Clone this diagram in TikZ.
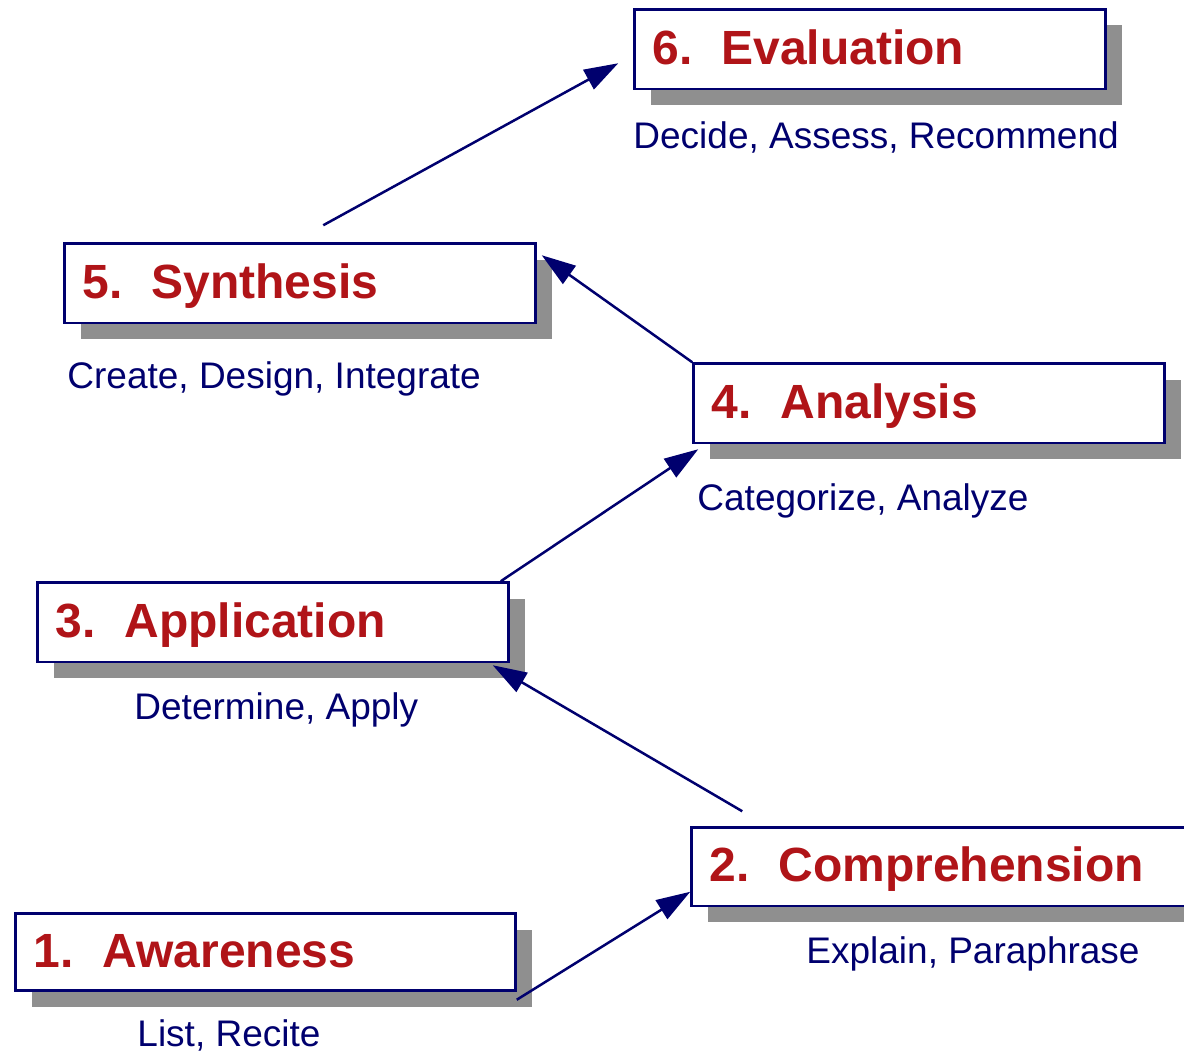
\documentclass[tikz,border=0pt]{standalone}
\usepackage{fontspec}
\setmainfont{Liberation Sans}
\usetikzlibrary{calc,positioning,arrows.meta,shadows}

\definecolor{navy}{RGB}{0,0,110}
\definecolor{titlered}{RGB}{176,20,24}
\definecolor{shadowgray}{RGB}{143,143,143}

\newcommand{\gap}{\hspace{29pt}}

\begin{document}
\begin{tikzpicture}[
    x=1pt,y=-1pt,
    stage/.style={rectangle,draw=navy,line width=2.5pt,fill=white,anchor=north west,
      minimum height=79.5pt,inner xsep=18pt,inner ysep=0pt,text width=#1,align=left,
      text height=40pt,text depth=10pt,
      font=\fontsize{48}{52}\selectfont\bfseries,text=titlered,
      drop shadow={shadow xshift=16pt,shadow yshift=-16pt,fill=shadowgray,opacity=1}},
    stage/.default=435pt,
    verbs/.style={anchor=base west,inner sep=0pt,font=\fontsize{37}{40}\selectfont,text=navy},
    arr/.style={draw=navy,line width=2.5pt,-{Triangle[length=34pt,width=22pt]}}
    ]

    \useasboundingbox (0,0) rectangle (1184,1054);

    \node(aw) [stage=464pt,minimum height=77pt] at (14.25,912.25) {1.\gap Awareness};
    \node(aw_ex) [verbs] at ([xshift=123pt,yshift=-55pt]aw.south west) {List, Recite};

    \node(co) [stage=464pt,minimum height=78.5pt] at (690.25,826.25) {2.\gap Comprehension};
    \node(co_ex) [verbs] at ([xshift=116pt,yshift=-56pt]co.south west) {Explain, Paraphrase};

    \node(ap) [stage] at (36.25,581.25) {3.\gap Application};
    \node(ap_ex) [verbs] at ([xshift=98pt,yshift=-56pt]ap.south west) {Determine, Apply};

    \node(an) [stage] at (692.25,362.25) {4.\gap Analysis};
    \node(an_ex) [verbs] at ([xshift=5pt,yshift=-66pt]an.south west) {Categorize, Analyze};

    \node(sy) [stage] at (63.25,242.25) {5.\gap Synthesis};
    \node(sy_ex) [verbs] at ([xshift=4pt,yshift=-64pt]sy.south west) {Create, Design, Integrate};

    \node(ev) [stage] at (633.25,8.25) {6.\gap Evaluation};
    \node(ev_ex) [verbs] at ([xshift=0pt,yshift=-58pt]ev.south west) {Decide, Assess, Recommend};

    % steps up the ladder
    \draw[arr] ([yshift=-8pt]aw.south east) -- ([yshift=-25pt]co.west);
    \draw[arr] ([xshift=52pt,yshift=15pt]co.north west) -- ([xshift=-17pt,yshift=-2pt]ap.south east);
    \draw[arr] ([xshift=-9pt]ap.north east) -- ([xshift=6pt,yshift=-5pt]an.south west);
    \draw[arr] (an.north west) -- ([xshift=5pt,yshift=-13pt]sy.north east);
    \draw[arr] ([xshift=260pt,yshift=17pt]sy.north west) -- ([xshift=-15pt,yshift=-14pt]ev.west);

  \end{tikzpicture}
\end{document}
